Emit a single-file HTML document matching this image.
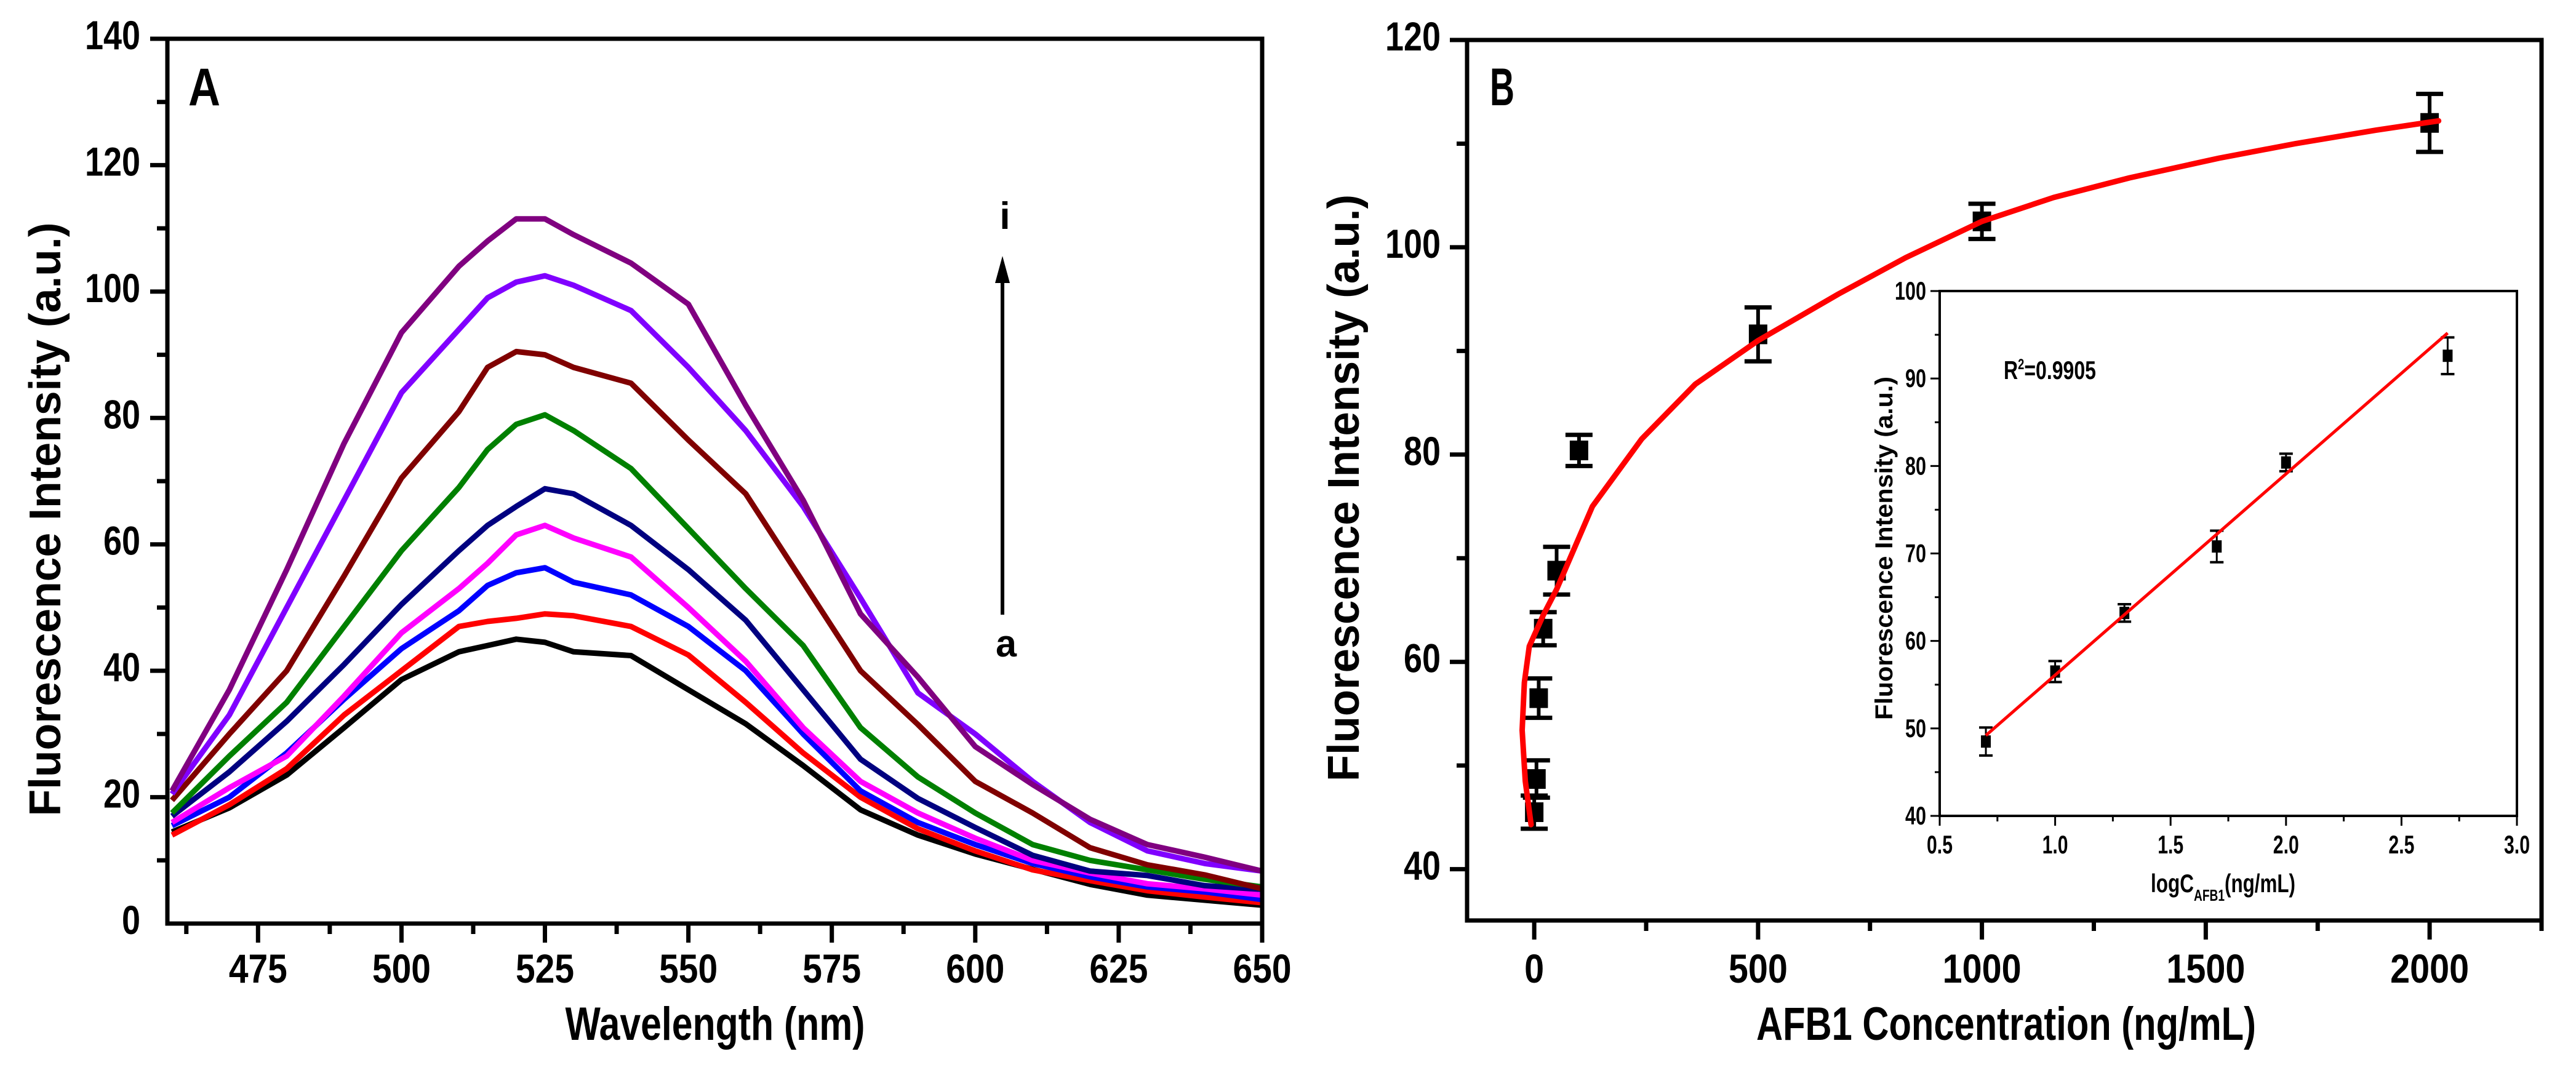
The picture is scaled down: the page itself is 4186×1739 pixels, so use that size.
<!DOCTYPE html>
<html><head><meta charset="utf-8">
<style>
html,body{margin:0;padding:0;background:#fff;}
svg{display:block;}
text{font-family:"Liberation Sans",sans-serif;font-weight:bold;fill:#000;}
</style></head>
<body>
<svg id="fig" width="4186" height="1739" viewBox="0 0 4186 1739" xmlns="http://www.w3.org/2000/svg">
<g id="panelA"></g>
<g id="panelB"></g>
<g id="inset"></g>
</svg>
<script>
// ---- Panel A data ----
const wavelengths = [460,470,480,490,500,510,515,520,525,530,540,550,560,570,580,590,600,610,620,630,640,650];
const seriesNames = ['a','b','c','d','e','f','g','h','i'];
const seriesColors = ['#000000','#ff0000','#0000ff','#ff00ff','#000080','#008000','#800000','#8000ff','#800080'];
const curveA = [14.5,18.3,23.5,31,38.6,43,44,45,44.5,43,42.4,37,31.6,25,18,14,11,8.6,6.2,4.5,3.7,2.9];
const curveB = [14,18.8,24.5,33,40,47,47.8,48.3,49,48.7,47,42.5,35,27,20,15,11.5,8.5,6.8,5.2,4.2,3.3];
const curveC = [15.5,20,27,35.5,43.5,49.5,53.5,55.5,56.3,54,52,47,40,30,21,16,12.5,9.5,7.4,5.8,5,3.8];
const curveD = [16,21.5,26.5,36,46,53,57,61.5,63,61,58,50,41.5,31,22.5,17.5,13.5,10,8,6.3,5.5,4.5];
const curveE = [17,24,32,41,50.5,59,63,66,68.8,68,63,56,48,37,26,19.8,15.2,10.8,8.3,7.6,6,5.4];
const curveF = [17.5,26.5,35,47,59,69,75,79,80.5,78,72,62.5,53,44,31,23.2,17.5,12.5,10,8.5,7,5.8];
const curveG = [19.5,30,40,55,70.5,81,88,90.5,90,88,85.5,76.5,68,54,40,31.5,22.5,17.5,12,9.3,7.7,5.5];
const curveH = [20.5,33,50,67,84,94,99,101.5,102.5,101,97,88,78,66,51.5,36.5,30,22.5,16,11.5,9.5,8.3];
const curveI = [21,37,56,76,93.5,104,108,111.5,111.5,109,104.5,98,82,67,49,39,28,22,16.5,12.5,10.5,8.3];
const aXTicks = [475,500,525,550,575,600,625,650];
const aYTicks = [0,20,40,60,80,100,120,140];

// ---- Panel B data ----
const concentrations = [0,5,10,20,50,100,500,1000,2000];
const intensities = [45.5,48.7,56.5,63.2,68.8,80.4,91.6,102.5,112];
const intensityErr = [1.6,1.8,1.9,1.6,2.3,1.5,2.6,1.7,2.8];
const fitX = [-7,-20,-27,-22,-11,20,50,130,240,360,500,680,830,1000,1160,1330,1530,1700,1880,2020];
const fitY = [44.3,48.5,53.4,58,61.5,64.5,67,75,81.5,86.8,91,95.5,99,102.5,104.8,106.7,108.6,110,111.3,112.2];
const bXTicks = [0,500,1000,1500,2000];
const bYTicks = [40,60,80,100,120];

// ---- Inset data ----
const logConc = [0.7,1.0,1.3,1.7,2.0,2.7];
const insetY = [48.5,56.5,63.2,70.8,80.4,92.6];
const insetErr = [1.6,1.2,1.0,1.8,1.0,2.1];
const lineX = [0.7,2.7];
const lineY = [49.2,95.2];
const iXTicks = [0.5,1.0,1.5,2.0,2.5,3.0];
const iYTicks = [40,50,60,70,80,90,100];

const NS='http://www.w3.org/2000/svg';
function mk(parent,tag,attrs,txt){const e=document.createElementNS(NS,tag);for(const k in attrs)e.setAttribute(k,attrs[k]);if(txt!==undefined)e.textContent=txt;parent.appendChild(e);return e;}

// ===== Panel A =====
const A=document.getElementById('panelA');
const aL=272,aR=2051,aT=63,aB=1501,axMin=459.2,axMax=650,ayMin=0,ayMax=140;
const ax=v=>aL+(v-axMin)/(axMax-axMin)*(aR-aL);
const ay=v=>aB-(v-ayMin)/(ayMax-ayMin)*(aB-aT);
const curves=[curveA,curveB,curveC,curveD,curveE,curveF,curveG,curveH,curveI];
curves.forEach((c,i)=>{
  const d=c.map((v,j)=>(j?'L':'M')+ax(wavelengths[j]).toFixed(1)+','+ay(v).toFixed(1)).join(' ');
  const p=mk(A,'path',{d:d,fill:'none',stroke:seriesColors[i],'stroke-width':9,'stroke-linejoin':'round'});
  
  
});
const aFrame=mk(A,'rect',{x:aL,y:aT,width:aR-aL,height:aB-aT,fill:'none',stroke:'#000','stroke-width':7});


for(let v=462.5;v<=650.01;v+=12.5){
  const major=Math.abs((v-475)%25)<0.01;
  const t=mk(A,'line',{x1:ax(v),x2:ax(v),y1:aB,y2:aB+(major?31:17),stroke:'#000','stroke-width':7});
  
  
}
aXTicks.forEach(v=>{
  const t=mk(A,'text',{x:ax(v),y:1597,'font-size':66,'text-anchor':'middle',textLength:95,lengthAdjust:'spacingAndGlyphs'},String(v));
  
  
});
for(let v=10;v<=140;v+=10){
  const major=v%20===0;
  const t=mk(A,'line',{x1:aL,x2:aL-(major?28:17),y1:ay(v),y2:ay(v),stroke:'#000','stroke-width':7});
  
  
}
aYTicks.forEach(v=>{
  const s=String(v);
  const t=mk(A,'text',{x:228,y:ay(v)+17,'font-size':66,'text-anchor':'end',textLength:s.length*30,lengthAdjust:'spacingAndGlyphs'},s);
  
  
});
let t;
t=mk(A,'text',{x:1162,y:1690,'font-size':76,'text-anchor':'middle',textLength:487,lengthAdjust:'spacingAndGlyphs'},'Wavelength (nm)');


t=mk(A,'text',{x:0,y:0,'font-size':72,'text-anchor':'middle',textLength:965,lengthAdjust:'spacingAndGlyphs',transform:'translate(98,844) rotate(-90)'},'Fluorescence Intensity (a.u.)');


t=mk(A,'text',{x:306,y:171,'font-size':86,textLength:52,lengthAdjust:'spacingAndGlyphs'},'A');


t=mk(A,'line',{x1:1629,x2:1629,y1:999,y2:450,stroke:'#000','stroke-width':6});


t=mk(A,'polygon',{points:'1629,416 1617,460 1641,460',fill:'#000'});


t=mk(A,'text',{x:1633,y:372,'font-size':62,'text-anchor':'middle'},'i');


t=mk(A,'text',{x:1635,y:1067,'font-size':62,'text-anchor':'middle',textLength:34,lengthAdjust:'spacingAndGlyphs'},'a');



// ===== Panel B =====
const B=document.getElementById('panelB');
const bL=2384,bR=4130,bT=65,bB=1496,bxMin=-150,bxMax=2250,byMin=35.05,byMax=120;
const bx=v=>bL+(v-bxMin)/(bxMax-bxMin)*(bR-bL);
const by=v=>bB-(v-byMin)/(byMax-byMin)*(bB-bT);
t=mk(B,'rect',{x:bL,y:bT,width:bR-bL,height:bB-bT,fill:'none',stroke:'#000','stroke-width':7});


for(let v=250;v<=2250;v+=250){
  const major=v%500===0;
  const l=mk(B,'line',{x1:bx(v),x2:bx(v),y1:bB,y2:bB+(major?31:17),stroke:'#000','stroke-width':7});
  
  
}
{const l=mk(B,'line',{x1:bx(0),x2:bx(0),y1:bB,y2:bB+31,stroke:'#000','stroke-width':7});

}
bXTicks.forEach(v=>{
  const s=String(v);
  const e=mk(B,'text',{x:bx(v),y:1597,'font-size':66,'text-anchor':'middle',textLength:s.length*32,lengthAdjust:'spacingAndGlyphs'},s);
  
  
});
for(let v=40;v<=120;v+=10){
  const major=v%20===0;
  const l=mk(B,'line',{x1:bL,x2:bL-(major?28:17),y1:by(v),y2:by(v),stroke:'#000','stroke-width':7});
  
  
}
bYTicks.forEach(v=>{
  const s=String(v);
  const e=mk(B,'text',{x:2341,y:by(v)+17,'font-size':66,'text-anchor':'end',textLength:s.length*30,lengthAdjust:'spacingAndGlyphs'},s);
  
  
});
concentrations.forEach((c,i)=>{
  const g=mk(B,'g',{});
  
  
  const x=bx(c),y1=by(intensities[i]+intensityErr[i]),y2=by(intensities[i]-intensityErr[i]);
  mk(g,'line',{x1:x,x2:x,y1:y1,y2:y2,stroke:'#000','stroke-width':6});
  mk(g,'line',{x1:x-22,x2:x+22,y1:y1,y2:y1,stroke:'#000','stroke-width':7});
  mk(g,'line',{x1:x-22,x2:x+22,y1:y2,y2:y2,stroke:'#000','stroke-width':7});
  mk(g,'rect',{x:x-15,y:by(intensities[i])-16,width:30,height:32,fill:'#000'});
});
t=mk(B,'path',{d:fitX.map((v,j)=>(j?'L':'M')+bx(v).toFixed(1)+','+by(fitY[j]).toFixed(1)).join(' '),fill:'none',stroke:'#ff0000','stroke-width':9,'stroke-linejoin':'round','stroke-linecap':'round'});


t=mk(B,'text',{x:3260,y:1690,'font-size':76,'text-anchor':'middle',textLength:812,lengthAdjust:'spacingAndGlyphs'},'AFB1 Concentration (ng/mL)');


t=mk(B,'text',{x:0,y:0,'font-size':72,'text-anchor':'middle',textLength:954,lengthAdjust:'spacingAndGlyphs',transform:'translate(2208,793) rotate(-90)'},'Fluorescence Intensity (a.u.)');


t=mk(B,'text',{x:2421,y:171,'font-size':86,textLength:40,lengthAdjust:'spacingAndGlyphs'},'B');



// ===== Inset =====
const I=document.getElementById('inset');
const iL=3152,iR=4090,iT=473,iB=1326,ixMin=0.5,ixMax=3.0,iyMin=40,iyMax=100;
const ix=v=>iL+(v-ixMin)/(ixMax-ixMin)*(iR-iL);
const iy=v=>iB-(v-iyMin)/(iyMax-iyMin)*(iB-iT);
t=mk(I,'rect',{x:iL,y:iT,width:iR-iL,height:iB-iT,fill:'#fff',stroke:'#000','stroke-width':4});


for(let v=0.5;v<=3.001;v+=0.25){
  const major=Math.abs((v*2)-Math.round(v*2))<0.01;
  const l=mk(I,'line',{x1:ix(v),x2:ix(v),y1:iB,y2:iB+(major?16:9),stroke:'#000','stroke-width':3});
  
  
}
iXTicks.forEach(v=>{
  const e=mk(I,'text',{x:ix(v),y:1387,'font-size':42,'text-anchor':'middle',textLength:42,lengthAdjust:'spacingAndGlyphs'},v.toFixed(1));
  
  
});
for(let v=40;v<=100;v+=5){
  const major=v%10===0;
  const l=mk(I,'line',{x1:iL,x2:iL-(major?15:8),y1:iy(v),y2:iy(v),stroke:'#000','stroke-width':3});
  
  
}
iYTicks.forEach(v=>{
  const s=String(v);
  const e=mk(I,'text',{x:3130,y:iy(v)+14,'font-size':42,'text-anchor':'end',textLength:s.length*17,lengthAdjust:'spacingAndGlyphs'},s);
  
  
});
logConc.forEach((c,i)=>{
  const g=mk(I,'g',{});
  
  
  const x=ix(c),y1=iy(insetY[i]+insetErr[i]),y2=iy(insetY[i]-insetErr[i]);
  mk(g,'line',{x1:x,x2:x,y1:y1,y2:y2,stroke:'#000','stroke-width':3});
  mk(g,'line',{x1:x-11,x2:x+11,y1:y1,y2:y1,stroke:'#000','stroke-width':4});
  mk(g,'line',{x1:x-11,x2:x+11,y1:y2,y2:y2,stroke:'#000','stroke-width':4});
  mk(g,'rect',{x:x-8,y:iy(insetY[i])-10,width:16,height:20,fill:'#000'});
});
t=mk(I,'line',{x1:ix(lineX[0]),y1:iy(lineY[0]),x2:ix(lineX[1]),y2:iy(lineY[1]),stroke:'#ff0000','stroke-width':5});


t=mk(I,'text',{x:3256,y:616,'font-size':42,textLength:150,lengthAdjust:'spacingAndGlyphs'},'R');


t.textContent='';
mk(t,'tspan',{},'R');
mk(t,'tspan',{dy:-16,'font-size':24},'2');
mk(t,'tspan',{dy:16},'=0.9905');
t=mk(I,'text',{x:0,y:0,'font-size':40,'text-anchor':'middle',textLength:558,lengthAdjust:'spacingAndGlyphs',transform:'translate(3075,891) rotate(-90)'},'Fluorescence Intensity (a.u.)');


t=mk(I,'text',{x:3495,y:1450,'font-size':42},'');


mk(t,'tspan',{textLength:70,lengthAdjust:'spacingAndGlyphs'},'logC');
mk(t,'tspan',{dy:14,'font-size':26,textLength:50,lengthAdjust:'spacingAndGlyphs'},'AFB1');
mk(t,'tspan',{dy:-14,textLength:115,lengthAdjust:'spacingAndGlyphs'},'(ng/mL)');
</script>
</body></html>
